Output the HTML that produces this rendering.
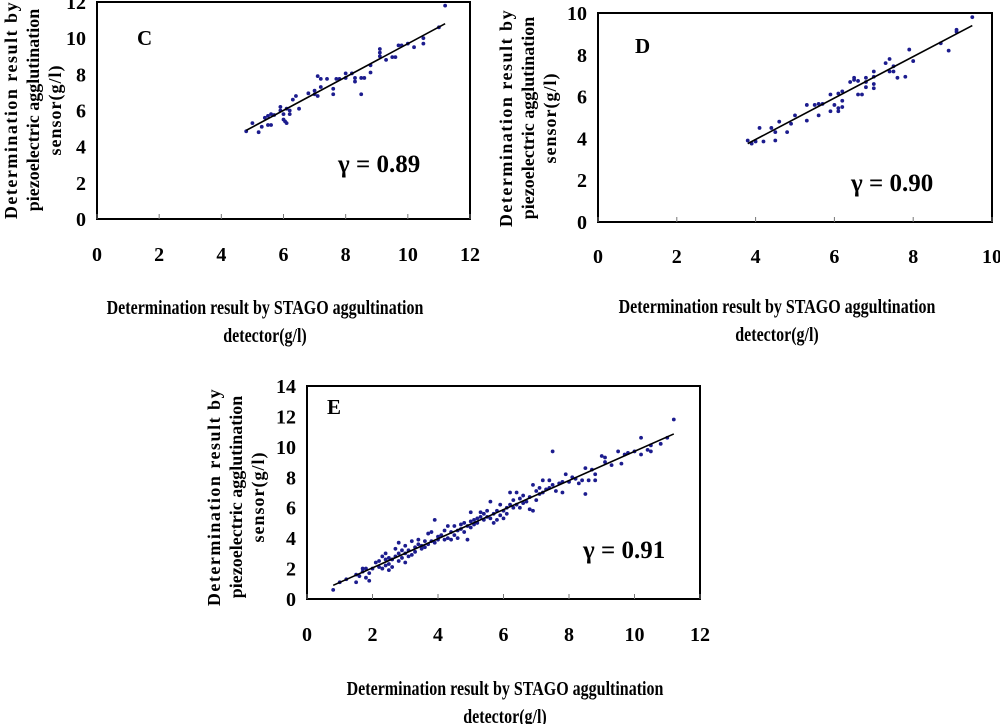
<!DOCTYPE html>
<html><head><meta charset="utf-8"><style>
html,body{margin:0;padding:0;background:#fff;}
svg{display:block;font-family:"Liberation Serif",serif;font-weight:bold;}
</style></head><body>
<svg id="s" width="1000" height="724" xmlns="http://www.w3.org/2000/svg"></svg>
<script>
const cPoints=[[4.8,4.85],[5.0,5.3],[5.2,4.8],[5.3,5.1],[5.4,5.6],[5.5,5.7],[5.5,5.2],[5.6,5.8],[5.6,5.2],[5.7,5.75],[5.9,6.2],[5.9,6.0],[6.0,5.5],[6.0,5.8],[6.05,5.4],[6.1,6.1],[6.1,5.3],[6.2,5.8],[6.2,6.0],[6.3,6.6],[6.4,6.8],[6.5,6.1],[6.8,6.95],[7.0,7.1],[7.0,6.9],[7.1,7.9],[7.1,6.8],[7.2,7.3],[7.2,7.75],[7.4,7.75],[7.6,7.2],[7.6,6.9],[7.7,7.75],[7.8,7.75],[8.0,7.8],[8.0,8.05],[8.2,8.05],[8.3,7.6],[8.3,7.8],[8.5,6.9],[8.5,7.8],[8.6,7.8],[8.8,8.1],[8.8,8.5],[9.1,9.0],[9.1,9.2],[9.1,9.4],[9.3,8.8],[9.5,8.95],[9.6,8.95],[9.7,9.6],[9.8,9.6],[10.0,9.7],[10.2,9.5],[10.5,9.7],[10.5,10.0],[11.0,10.6],[11.2,11.8]];
const cFit=[[4.8,4.9],[11.2,10.8]];
const dPoints=[[3.8,3.9],[3.9,3.75],[4.0,3.85],[4.1,4.5],[4.2,3.85],[4.4,4.5],[4.5,4.3],[4.5,3.9],[4.6,4.8],[4.8,4.3],[4.9,4.7],[5.0,5.1],[5.3,5.6],[5.3,4.85],[5.5,5.6],[5.6,5.1],[5.6,5.65],[5.7,5.65],[5.9,6.1],[5.9,5.3],[6.0,5.6],[6.1,5.3],[6.1,5.45],[6.1,6.15],[6.2,5.5],[6.2,5.8],[6.2,6.25],[6.4,6.7],[6.5,6.8],[6.5,6.9],[6.6,6.1],[6.6,6.75],[6.7,6.1],[6.8,6.45],[6.8,6.9],[6.8,6.7],[7.0,6.4],[7.0,6.6],[7.0,7.2],[7.0,6.95],[7.3,7.6],[7.4,7.8],[7.4,7.2],[7.5,7.2],[7.5,7.45],[7.6,6.9],[7.8,6.95],[7.9,8.25],[8.0,7.7],[8.7,8.55],[8.9,8.2],[9.1,9.1],[9.1,9.2],[9.5,9.8]];
const dFit=[[3.8,3.75],[9.5,9.4]];
const ePoints=[[0.8,0.6],[1.0,1.1],[1.2,1.3],[1.5,1.1],[1.5,1.6],[1.6,1.5],[1.7,2.0],[1.7,1.8],[1.8,2.0],[1.8,1.4],[1.9,1.2],[1.9,1.7],[2.0,2.0],[2.1,2.4],[2.2,2.1],[2.2,2.5],[2.3,2.8],[2.3,2.0],[2.4,3.0],[2.4,2.2],[2.4,2.6],[2.5,1.9],[2.5,2.7],[2.5,2.3],[2.6,2.6],[2.6,2.1],[2.7,2.8],[2.7,3.3],[2.8,2.5],[2.8,3.0],[2.8,3.7],[2.9,2.7],[2.9,3.2],[3.0,2.4],[3.0,3.0],[3.0,3.5],[3.1,2.8],[3.1,3.2],[3.2,3.8],[3.2,2.9],[3.3,3.4],[3.3,3.1],[3.4,3.6],[3.4,3.9],[3.5,3.3],[3.5,3.5],[3.6,3.8],[3.6,3.4],[3.7,4.3],[3.7,3.6],[3.8,4.4],[3.8,3.8],[3.9,3.7],[3.9,5.2],[4.0,3.9],[4.0,4.1],[4.1,4.2],[4.2,4.5],[4.2,3.9],[4.3,4.8],[4.3,4.0],[4.4,4.4],[4.4,3.9],[4.5,4.2],[4.5,4.8],[4.6,4.5],[4.6,4.0],[4.7,4.9],[4.7,4.6],[4.8,5.0],[4.8,4.4],[4.9,3.9],[4.9,4.8],[5.0,5.7],[5.0,4.7],[5.0,5.1],[5.1,5.2],[5.1,4.9],[5.2,5.0],[5.2,5.3],[5.3,5.4],[5.3,5.7],[5.4,5.2],[5.4,5.6],[5.5,5.4],[5.5,5.8],[5.6,6.4],[5.6,5.3],[5.7,5.6],[5.7,5.0],[5.8,5.2],[5.8,5.8],[5.9,6.2],[5.9,5.5],[6.0,5.8],[6.0,5.3],[6.1,6.0],[6.1,5.6],[6.2,7.0],[6.2,6.2],[6.3,6.0],[6.3,6.5],[6.4,7.0],[6.4,6.2],[6.5,6.6],[6.5,6.0],[6.6,6.8],[6.6,6.3],[6.7,6.4],[6.8,6.7],[6.8,5.9],[6.9,7.5],[6.9,5.8],[7.0,6.5],[7.0,7.1],[7.1,7.3],[7.1,6.9],[7.2,7.8],[7.2,7.0],[7.3,7.2],[7.4,7.8],[7.4,7.3],[7.5,9.7],[7.5,7.5],[7.6,7.1],[7.7,7.6],[7.8,7.0],[7.8,7.7],[7.9,8.2],[8.0,7.7],[8.1,8.0],[8.2,7.9],[8.3,7.6],[8.4,7.8],[8.5,8.6],[8.5,6.9],[8.6,7.8],[8.7,8.5],[8.8,8.2],[8.8,7.8],[9.0,9.4],[9.1,9.0],[9.1,9.3],[9.3,8.8],[9.5,9.7],[9.6,8.9],[9.7,9.5],[9.8,9.6],[10.0,9.7],[10.2,10.6],[10.2,9.5],[10.4,9.8],[10.5,9.7],[10.5,10.1],[10.8,10.2],[11.0,10.6],[11.2,11.8]];
const eFit=[[0.8,0.9],[11.2,10.85]];
const cXTicks=[0,2,4,6,8,10,12], cYTicks=[0,2,4,6,8,10,12];
const dXTicks=[0,2,4,6,8,10], dYTicks=[0,2,4,6,8,10];
const eXTicks=[0,2,4,6,8,10,12], eYTicks=[0,2,4,6,8,10,12,14];

const NS="http://www.w3.org/2000/svg", svg=document.getElementById('s');
function mk(tag,attrs,parent,text){const e=document.createElementNS(NS,tag);for(const k in attrs)e.setAttribute(k,attrs[k]);if(text!==undefined)e.textContent=text;(parent||svg).appendChild(e);return e;}

function panel(p){
  const g=mk('g',{});
  
  
  const X=v=>p.L+(v-p.xmin)/(p.xmax-p.xmin)*(p.R-p.L);
  const Y=v=>p.B-(v-p.ymin)/(p.ymax-p.ymin)*(p.B-p.T);
  const box=mk('rect',{x:p.L,y:p.T,width:p.R-p.L,height:p.B-p.T,fill:'none',stroke:'#000','stroke-width':2},g);
  
  
  p.xt.forEach(v=>{
    const t=mk('line',{x1:X(v),x2:X(v),y1:p.B,y2:p.B-5,stroke:'#777','stroke-width':1},g);
    
    
    const l=mk('text',{x:X(v),y:p.xly,'text-anchor':'middle','font-size':20},g,String(v));
    
    
  });
  p.yt.forEach(v=>{
    const l=mk('text',{x:p.L-11,y:Y(v)+7,'text-anchor':'end','font-size':20},g,String(v));
    
    
  });
  p.pts.forEach(d=>{
    const c=mk('circle',{cx:X(d[0]),cy:Y(d[1]),r:1.9,fill:'#1c1c8e'},g);
    
    
  });
  const f=mk('line',{x1:X(p.fit[0][0]),y1:Y(p.fit[0][1]),x2:X(p.fit[1][0]),y2:Y(p.fit[1][1]),stroke:'#000','stroke-width':1.6},g);
  
  
  const lt=mk('text',{x:p.lx,y:p.ly,'font-size':21},g,p.id);
  
  
  const gm=mk('text',{x:p.gx,y:p.gy,'font-size':25},g,'γ = '+p.r);
  
  
  const xt=mk('text',{x:0,'text-anchor':'middle','font-size':20,transform:`translate(${p.xtx},0) scale(0.8,1)`},g);
  
  
  mk('tspan',{x:0,y:p.xty},xt,'Determination result by STAGO aggultination');
  mk('tspan',{x:0,y:p.xty+28},xt,'detector(g/l)');
  const yt=mk('text',{'text-anchor':'middle','font-size':18,transform:`translate(${p.ytx},${p.yty}) rotate(-90)`},g);
  
  
  mk('tspan',{x:0,y:0,'letter-spacing':'1.5'},yt,'Determination result by');
  mk('tspan',{x:0,y:22},yt,'piezoelectric agglutination');
  mk('tspan',{x:0,y:44,'letter-spacing':'1'},yt,'sensor(g/l)');
}
panel({id:'C',L:97,R:470,T:2,B:219,xmin:0,xmax:12,ymin:0,ymax:12,xt:cXTicks,yt:cYTicks,pts:cPoints,fit:cFit,xly:261,lx:137,ly:45,gx:338,gy:172,r:'0.89',xtx:265,xty:314,ytx:17,yty:110});
panel({id:'D',L:598,R:992,T:13,B:222,xmin:0,xmax:10,ymin:0,ymax:10,xt:dXTicks,yt:dYTicks,pts:dPoints,fit:dFit,xly:263,lx:635,ly:53,gx:851,gy:191,r:'0.90',xtx:777,xty:313,ytx:512,yty:118});
panel({id:'E',L:307,R:700,T:386,B:599,xmin:0,xmax:12,ymin:0,ymax:14,xt:eXTicks,yt:eYTicks,pts:ePoints,fit:eFit,xly:641,lx:327,ly:414,gx:583,gy:558,r:'0.91',xtx:505,xty:695,ytx:220,yty:497});
</script>
</body></html>
